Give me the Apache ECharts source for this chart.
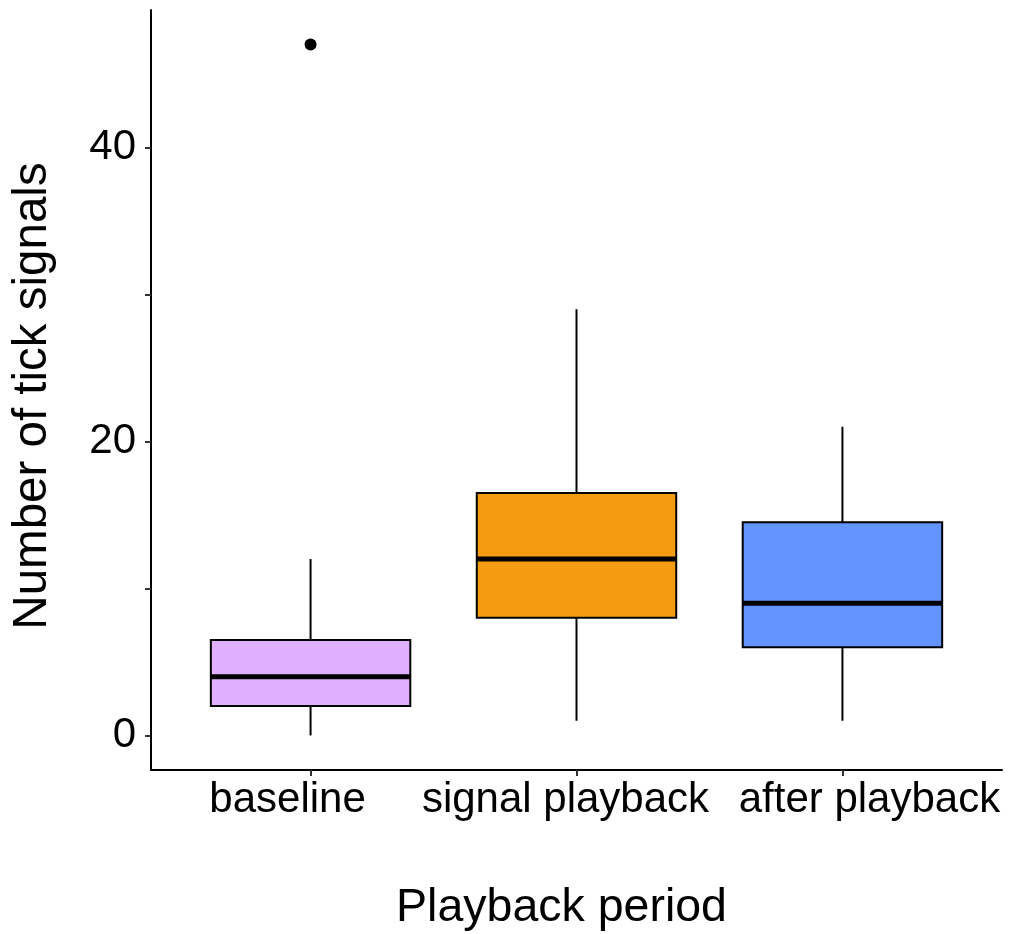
<!DOCTYPE html>
<html>
<head>
<meta charset="utf-8">
<script src="https://cdn.jsdelivr.net/npm/echarts@6/dist/echarts.min.js"></script>
<style>html,body{margin:0;padding:0;background:#fff;}#chart{width:1010px;height:934px;}</style>
</head>
<body>
<div id="chart"></div>
<script>
// Data
const categories = ['baseline', 'signal playback', 'after playback'];
const whiskerLow = [0, 1, 1];
const q1 = [2, 8, 6];
const median = [4, 12, 9];
const q3 = [6.5, 16.5, 14.5];
const whiskerHigh = [12, 29, 21];
const outlierCategory = [0];
const outlierValue = [47];
const boxColors = ['#E0B0FF', '#F39C12', '#6394FF'];
const yTicks = [0, 10, 20, 30, 40];
const yLabels = [0, 20, 40];

const boxData = categories.map((c, i) => [i + 1, whiskerLow[i], q1[i], median[i], q3[i], whiskerHigh[i], i]);
const outlierData = outlierCategory.map((c, i) => [c + 1, outlierValue[i]]);

const chart = echarts.init(document.getElementById('chart'), null, {renderer: 'canvas'});
const FONT = 'Liberation Sans, Arial, sans-serif';
const labelStyle = {fontSize: 42, color: '#000', fontFamily: FONT};

chart.setOption({
  animation: false,
  backgroundColor: '#fff',
  grid: {left: 151, right: 8, top: 10, bottom: 164, containLabel: false, outerBoundsMode: 'none'},
  xAxis: {
    type: 'value', min: 0.4, max: 3.6,
    splitLine: {show: false},
    axisLine: {show: true, onZero: false, lineStyle: {color: '#000', width: 2}},
    axisTick: {show: true, customValues: [1, 2, 3], length: 6, lineStyle: {color: '#333', width: 2}},
    axisLabel: {
      customValues: [1, 2, 3], hideOverlap: false, showMinLabel: true, showMaxLabel: true,
      formatter: v => '{c' + Math.round(v) + '|' + categories[Math.round(v) - 1] + '}',
      margin: 9,
      rich: {
        c1: Object.assign({padding: [0, 46, 0, 0]}, labelStyle),
        c2: Object.assign({padding: [0, 22, 0, 0]}, labelStyle),
        c3: Object.assign({padding: [0, 0, 0, 54]}, labelStyle)
      }
    },
    name: 'Playback period', nameLocation: 'middle', nameGap: 115,
    nameTextStyle: {fontSize: 46.5, color: '#000', fontFamily: FONT, padding: [0, 30, 0, 0]}
  },
  yAxis: {
    type: 'value', min: -2.35, max: 49.35,
    splitLine: {show: false},
    axisLine: {show: true, onZero: false, lineStyle: {color: '#000', width: 2}},
    axisTick: {show: true, customValues: yTicks, length: 6, lineStyle: {color: '#333', width: 2}},
    axisLabel: Object.assign({customValues: yLabels, margin: 15}, labelStyle),
    name: 'Number of tick signals', nameLocation: 'middle', nameGap: 94, nameRotate: 90,
    nameTextStyle: {fontSize: 47.5, color: '#000', fontFamily: FONT, padding: [0, 12, 0, 0]}
  },
  series: [
    {
      type: 'custom',
      data: boxData,
      encode: {x: 0, y: [1, 2, 3, 4, 5]},
      renderItem: function (params, api) {
        const x = api.value(0);
        const idx = api.value(6);
        const half = 0.375;
        const pLow = api.coord([x, api.value(1)]);
        const pQ1 = api.coord([x, api.value(2)]);
        const pMed = api.coord([x, api.value(3)]);
        const pQ3 = api.coord([x, api.value(4)]);
        const pHigh = api.coord([x, api.value(5)]);
        const left = api.coord([x - half, 0])[0];
        const right = api.coord([x + half, 0])[0];
        return {
          type: 'group',
          children: [
            {type: 'line', shape: {x1: pLow[0], y1: pLow[1], x2: pQ1[0], y2: pQ1[1]}, style: {stroke: '#000', lineWidth: 2}},
            {type: 'line', shape: {x1: pQ3[0], y1: pQ3[1], x2: pHigh[0], y2: pHigh[1]}, style: {stroke: '#000', lineWidth: 2}},
            {type: 'rect', shape: {x: left, y: pQ3[1], width: right - left, height: pQ1[1] - pQ3[1]}, style: {fill: boxColors[idx], stroke: '#000', lineWidth: 2}},
            {type: 'line', shape: {x1: left, y1: pMed[1], x2: right, y2: pMed[1]}, style: {stroke: '#000', lineWidth: 5}}
          ]
        };
      }
    },
    {
      type: 'scatter',
      data: outlierData,
      symbol: 'circle', symbolSize: 12,
      itemStyle: {color: '#000', opacity: 1}
    }
  ]
});
</script>
</body>
</html>
